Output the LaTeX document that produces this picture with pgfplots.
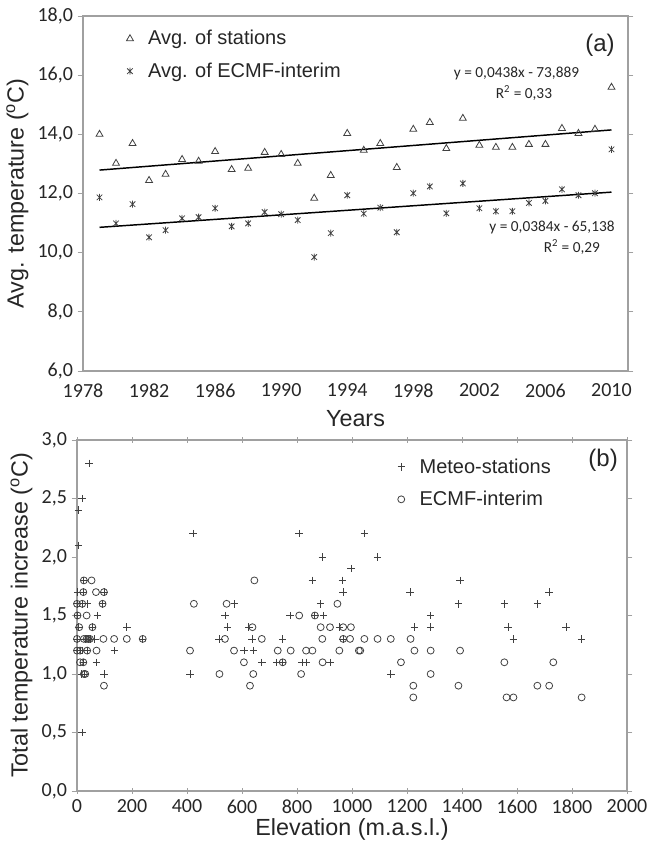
\documentclass[border=0pt]{standalone}
\usepackage{fontspec}
\setmainfont{Liberation Sans}
\newfontfamily\calibri{Carlito}
\usepackage{pgfplots}
\pgfplotsset{compat=1.18}
\definecolor{axgray}{HTML}{A0A0A0}
\definecolor{mk}{HTML}{404040}
\definecolor{txt}{HTML}{262626}
\pgfdeclareplotmark{xstar}{%
  \pgfpathmoveto{\pgfqpoint{-0.8\pgfplotmarksize}{-0.8\pgfplotmarksize}}%
  \pgfpathlineto{\pgfqpoint{0.8\pgfplotmarksize}{0.8\pgfplotmarksize}}%
  \pgfpathmoveto{\pgfqpoint{-0.8\pgfplotmarksize}{0.8\pgfplotmarksize}}%
  \pgfpathlineto{\pgfqpoint{0.8\pgfplotmarksize}{-0.8\pgfplotmarksize}}%
  \pgfpathmoveto{\pgfqpoint{0pt}{-\pgfplotmarksize}}%
  \pgfpathlineto{\pgfqpoint{0pt}{\pgfplotmarksize}}%
  \pgfusepathqstroke}
\pgfplotsset{
  common/.style={
    scale only axis, clip=false,
    axis line style={axgray, line width=0.8pt},
    tick style={axgray, line width=0.6pt},
    major tick length=4pt,
    tick label style={font=\calibri\fontsize{15}{17}\selectfont, text=txt},
    label style={font=\fontsize{17.5}{20}\selectfont, text=txt},
    /pgf/number format/assume math mode=true,
    legend cell align=left,
  }
}
\begin{document}
\begin{tikzpicture}
\path[use as bounding box] (0,0) rectangle (489pt,636.75pt);
% ---------------- panel (a)
\begin{axis}[common,
  at={(62.25pt,358.5pt)}, anchor=south west,
  width=408.75pt, height=266.25pt,
  xmin=1978, xmax=2011, ymin=6, ymax=18,
  xtick={1978,1982,...,2010}, ytick={6,8,...,18},
  xtick align=inside, ytick align=outside,
  xtick style={draw=none},
  xticklabel style={/pgf/number format/1000 sep={}, yshift=-6pt},
  yticklabel style={/pgf/number format/.cd, fixed, fixed zerofill, precision=1, use comma},
  xlabel={Years}, xlabel style={yshift=-3pt},
  ylabel={Avg. temperature (\textsuperscript{o}C)},
  legend style={at={(0.072,0.975)}, anchor=north west, draw=none, fill=none,
    font=\fontsize{15}{17}\selectfont, text=txt, row sep=8pt, column sep=9pt},
]
\addplot[only marks, mark=triangle, mark size=3pt, mk, mark options={line width=0.6pt}] coordinates {
(1979,14.00)(1980,13.02)(1981,13.69)(1982,12.44)(1983,12.65)(1984,13.15)(1985,13.09)(1986,13.42)
(1987,12.81)(1988,12.85)(1989,13.39)(1990,13.32)(1991,13.02)(1992,11.84)(1993,12.61)(1994,14.03)
(1995,13.46)(1996,13.69)(1997,12.88)(1998,14.17)(1999,14.40)(2000,13.52)(2001,14.54)(2002,13.63)
(2003,13.56)(2004,13.56)(2005,13.66)(2006,13.66)(2007,14.20)(2008,14.03)(2009,14.17)(2010,15.59)};
\addlegendentry{Avg. of stations}
\addplot[only marks, mark=xstar, mark size=2.6pt, mk, mark options={line width=0.6pt}] coordinates {
(1979,11.87)(1980,10.99)(1981,11.64)(1982,10.52)(1983,10.76)(1984,11.16)(1985,11.20)(1986,11.50)
(1987,10.89)(1988,10.99)(1989,11.37)(1990,11.30)(1991,11.10)(1992,9.85)(1993,10.66)(1994,11.94)
(1995,11.32)(1996,11.52)(1997,10.69)(1998,12.01)(1999,12.24)(2000,11.33)(2001,12.34)(2002,11.50)
(2003,11.40)(2004,11.40)(2005,11.68)(2006,11.75)(2007,12.14)(2008,11.94)(2009,12.01)(2010,13.49)};
\addlegendentry{Avg. of ECMF-interim}
\addplot[black, line width=1.1pt, forget plot] coordinates {(1979,12.791)(2010,14.149)};
\addplot[black, line width=1.1pt, forget plot] coordinates {(1979,10.856)(2010,12.046)};
\node[font=\fontsize{18}{20}\selectfont, text=txt] at (axis cs:2009.3,17.0) {(a)};
\node[font=\calibri\fontsize{11.5}{13}\selectfont, text=txt] at (axis cs:2004.25,16.07) {y = 0,0438x - 73,889};
\node[font=\calibri\fontsize{11.5}{13}\selectfont, text=txt] at (axis cs:2004.7,15.4) {R\textsuperscript{2} = 0,33};
\node[font=\calibri\fontsize{11.5}{13}\selectfont, text=txt] at (axis cs:2006.4,10.84) {y = 0,0384x - 65,138};
\node[font=\calibri\fontsize{11.5}{13}\selectfont, text=txt] at (axis cs:2007.6,10.2) {R\textsuperscript{2} = 0,29};
\end{axis}
% ---------------- panel (b)
\begin{axis}[common,
  at={(57.75pt,43.5pt)}, anchor=south west,
  width=412.5pt, height=263.25pt,
  xmin=0, xmax=2000, ymin=0, ymax=3,
  xtick={0,200,...,2000}, ytick={0,0.5,...,3},
  xtick align=center, ytick align=outside,
  xticklabel style={/pgf/number format/1000 sep={}, yshift=-1pt},
  yticklabel style={/pgf/number format/.cd, fixed, fixed zerofill, precision=1, use comma},
  xlabel={Elevation (m.a.s.l.)}, xlabel style={yshift=3pt},
  ylabel={Total temperature increase (\textsuperscript{o}C)},
  legend style={at={(0.575,0.963)}, anchor=north west, draw=none, fill=none,
    font=\fontsize{15}{17}\selectfont, text=txt, row sep=8pt, column sep=9pt},
]
\addplot[only marks, mark=+, mark size=2.8pt, mk, mark options={line width=0.6pt}] coordinates {
(44,2.8)(19,2.5)(5,2.4)(5,2.1)(422,2.2)(808,2.2)(1045,2.2)
(892,2.0)(1093,2.0)(996,1.9)
(25,1.8)(856,1.8)(965,1.8)(1393,1.8)
(3,1.7)(23,1.7)(98,1.7)(968,1.7)(1211,1.7)(1717,1.7)
(0,1.6)(19,1.6)(38,1.6)(93,1.6)(572,1.6)(886,1.6)(1387,1.6)(1554,1.6)(1675,1.6)
(2,1.5)(74,1.5)(538,1.5)(775,1.5)(865,1.5)(896,1.5)(1286,1.5)
(5,1.4)(56,1.4)(181,1.4)(547,1.4)(625,1.4)(954,1.4)(1227,1.4)(1286,1.4)(1568,1.4)(1778,1.4)
(0,1.3)(29,1.3)(41,1.3)(47,1.3)(65,1.3)(239,1.3)(516,1.3)(636,1.3)(748,1.3)(968,1.3)(1587,1.3)(1835,1.3)
(0,1.2)(11,1.2)(21,1.2)(37,1.2)(136,1.2)(607,1.2)(641,1.2)
(23,1.1)(70,1.1)(672,1.1)(726,1.1)(748,1.1)(818,1.1)(833,1.1)(920,1.1)
(17,1.0)(27,1.0)(98,1.0)(411,1.0)(1141,1.0)
(19,0.5)};
\addlegendentry{Meteo-stations}
\addplot[only marks, mark=o, mark size=2.6pt, mk, mark options={line width=0.6pt}] coordinates {
(25,1.8)(53,1.8)(645,1.8)
(23,1.7)(69,1.7)(98,1.7)
(0,1.6)(19,1.6)(93,1.6)(425,1.6)(544,1.6)(947,1.6)
(2,1.5)(35,1.5)(808,1.5)(865,1.5)
(8,1.4)(56,1.4)(638,1.4)(886,1.4)(920,1.4)(968,1.4)(996,1.4)
(0,1.3)(25,1.3)(35,1.3)(41,1.3)(47,1.3)(96,1.3)(135,1.3)(181,1.3)(239,1.3)(538,1.3)(672,1.3)(892,1.3)(968,1.3)(993,1.3)(1045,1.3)(1093,1.3)(1141,1.3)(1213,1.3)
(0,1.2)(11,1.2)(37,1.2)(71,1.2)(411,1.2)(571,1.2)(730,1.2)(777,1.2)(833,1.2)(856,1.2)(954,1.2)(1025,1.2)(1030,1.2)(1227,1.2)(1286,1.2)(1393,1.2)
(11,1.1)(23,1.1)(607,1.1)(748,1.1)(893,1.1)(1178,1.1)(1554,1.1)(1732,1.1)
(25,1.0)(30,1.0)(518,1.0)(641,1.0)(815,1.0)(1286,1.0)
(98,0.9)(629,0.9)(1223,0.9)(1387,0.9)(1674,0.9)(1717,0.9)
(1223,0.8)(1562,0.8)(1587,0.8)(1835,0.8)};
\addlegendentry{ECMF-interim}
\node[font=\fontsize{18}{20}\selectfont, text=txt] at (axis cs:1913,2.83) {(b)};
\end{axis}
\end{tikzpicture}
\end{document}
